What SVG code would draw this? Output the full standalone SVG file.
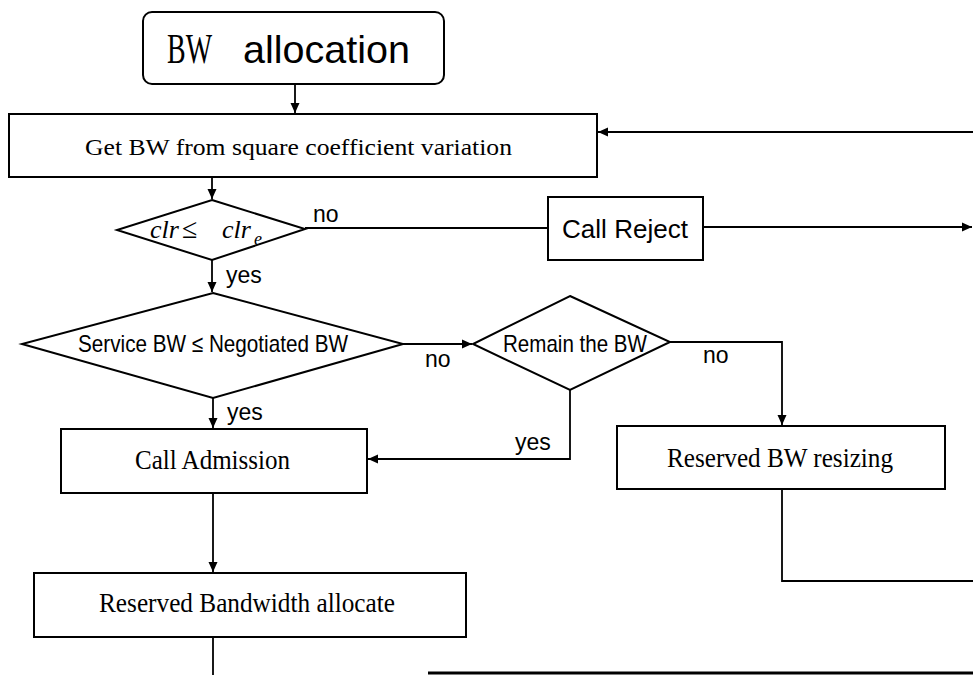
<svg xmlns="http://www.w3.org/2000/svg" width="973" height="675" viewBox="0 0 973 675">
<style>
.box{fill:#fff;stroke:#000;stroke-width:2}
.ln{fill:none;stroke:#000;stroke-width:1.8}
.serif{font-family:"Liberation Serif","DejaVu Serif",serif;fill:#000}
.sans{font-family:"Liberation Sans","DejaVu Sans",sans-serif;fill:#000}
.lbl{font-family:"Liberation Sans","DejaVu Sans",sans-serif;font-size:23px;fill:#000}
</style>
<defs>
<marker id="ah" markerWidth="12" markerHeight="12" refX="10" refY="6" orient="auto" markerUnits="userSpaceOnUse">
<path d="M0,1.5 L10,6 L0,10.5 Z" fill="#000"/>
</marker>
</defs>
<rect width="973" height="675" fill="#fff"/>
<g id="connectors">
<path class="ln" d="M295,84 V113" marker-end="url(#ah)"/>
<path class="ln" d="M212,177 V199" marker-end="url(#ah)"/>
<path class="ln" d="M305,228 H548"/>
<path class="ln" d="M703,227 H972" marker-end="url(#ah)"/>
<path class="ln" d="M973,132 H598" marker-end="url(#ah)"/>
<path class="ln" d="M212,260 V292" marker-end="url(#ah)"/>
<path class="ln" d="M403,344 H472" marker-end="url(#ah)"/>
<path class="ln" d="M213,398 V428" marker-end="url(#ah)"/>
<path class="ln" d="M670,342 H782 V425" marker-end="url(#ah)"/>
<path class="ln" d="M570,390 V459 H368" marker-end="url(#ah)"/>
<path class="ln" d="M213,493 V572" marker-end="url(#ah)"/>
<path class="ln" d="M213,637 V675"/>
<path class="ln" d="M782,489 V581 H973"/>
<path d="M428,673 H973" stroke="#000" stroke-width="3"/>
<text class="lbl" x="313" y="222" font-size="25">no</text>
<text class="lbl" x="226" y="283">yes</text>
<text class="lbl" x="425" y="367">no</text>
<text class="lbl" x="703" y="363">no</text>
<text class="lbl" x="227" y="420">yes</text>
<text class="lbl" x="515" y="450">yes</text>
</g>
<g id="start">
<rect class="box" x="143" y="12" width="301" height="72" rx="9"/>
<text class="serif" x="167" y="63" font-size="42" textLength="45" lengthAdjust="spacingAndGlyphs">BW</text>
<text class="sans" x="243" y="63" font-size="39" textLength="167" lengthAdjust="spacingAndGlyphs">allocation</text>
</g>
<g id="getbw">
<rect class="box" x="9" y="114" width="588" height="63"/>
<text class="serif" x="85" y="155" font-size="24" textLength="427" lengthAdjust="spacingAndGlyphs">Get BW from square coefficient variation</text>
</g>
<g id="clrcheck">
<polygon class="box" points="212,200 305,229 212,260 117,230"/>
<text class="serif" font-style="italic" font-size="26" x="150" y="238">clr</text>
<text class="serif" font-size="28" x="182" y="238">≤</text>
<text class="serif" font-style="italic" font-size="26" x="222" y="238">clr</text>
<text class="serif" font-style="italic" font-size="18" x="254" y="245">e</text>
</g>
<g id="reject">
<rect class="box" x="548" y="197" width="155" height="63"/>
<text class="sans" x="562" y="238" font-size="26" textLength="126" lengthAdjust="spacingAndGlyphs">Call Reject</text>
</g>
<g id="servicecheck">
<polygon class="box" points="213,293 403,344 213,398 22,344"/>
<text class="sans" x="213" y="352" font-size="24" text-anchor="middle" textLength="270" lengthAdjust="spacingAndGlyphs">Service BW ≤ Negotiated BW</text>
</g>
<g id="remain">
<polygon class="box" points="570,296 670,342 570,390 473,344"/>
<text class="sans" x="575" y="352" font-size="24" text-anchor="middle" textLength="144" lengthAdjust="spacingAndGlyphs">Remain the BW</text>
</g>
<g id="admission">
<rect class="box" x="61" y="429" width="306" height="64"/>
<text class="serif" x="135" y="469" font-size="27" textLength="155" lengthAdjust="spacingAndGlyphs">Call Admission</text>
</g>
<g id="resizing">
<rect class="box" x="617" y="426" width="328" height="63"/>
<text class="serif" x="667" y="467" font-size="27" textLength="226" lengthAdjust="spacingAndGlyphs">Reserved BW resizing</text>
</g>
<g id="allocate">
<rect class="box" x="34" y="573" width="432" height="64"/>
<text class="serif" x="99" y="612" font-size="27" textLength="296" lengthAdjust="spacingAndGlyphs">Reserved Bandwidth allocate</text>
</g>
</svg>
